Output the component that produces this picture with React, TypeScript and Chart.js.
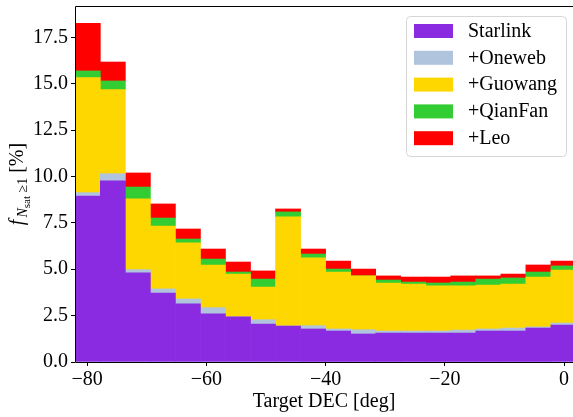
import React, { useEffect, useRef } from 'react';
import { Chart, registerables } from 'chart.js';

Chart.register(...registerables);

// Bin centres (deg) of the Target DEC histogram (bin width 4.2 deg)
const binCenters = [-79.9, -75.7, -71.5, -67.3, -63.1, -58.9, -54.7, -50.5, -46.3, -42.1, -37.9, -33.7, -29.5, -25.3, -21.1, -16.9, -12.7, -8.5, -4.3, -0.1];

// Stacked contributions (percent)
const starlink = [8.95, 9.76, 4.80, 3.72, 3.13, 2.60, 2.43, 2.05, 1.94, 1.78, 1.67, 1.51, 1.56, 1.56, 1.56, 1.56, 1.67, 1.67, 1.83, 1.99];
const oneweb = [0.18, 0.39, 0.18, 0.22, 0.27, 0.33, 0.0, 0.23, 0.0, 0.18, 0.11, 0.23, 0.11, 0.11, 0.11, 0.16, 0.11, 0.16, 0.06, 0.11];
const guowang = [6.20, 4.53, 3.81, 3.39, 3.02, 2.30, 2.31, 1.76, 5.88, 3.65, 3.07, 2.90, 2.59, 2.53, 2.44, 2.38, 2.37, 2.37, 2.69, 2.86];
const qianfan = [0.36, 0.47, 0.64, 0.43, 0.21, 0.32, 0.11, 0.43, 0.27, 0.21, 0.16, 0.0, 0.16, 0.11, 0.15, 0.21, 0.32, 0.33, 0.27, 0.22];
const leo = [2.57, 1.02, 0.76, 0.76, 0.54, 0.54, 0.54, 0.44, 0.16, 0.27, 0.43, 0.37, 0.22, 0.27, 0.32, 0.33, 0.17, 0.21, 0.38, 0.26];

const seriesLabels = ['Starlink', '+Oneweb', '+Guowang', '+QianFan', '+Leo'];
const seriesColors = ['#8A2BE2', '#B0C4DE', '#FFD700', '#32CD32', '#FF0000'];

const xTicks = [-80, -60, -40, -20, 0];
const yTicks = [0, 2.5, 5, 7.5, 10, 12.5, 15, 17.5];

const FONT = "'Liberation Serif', 'Times New Roman', serif";

const framePlugin = {
  id: 'frame',
  afterDatasetsDraw(chart: any) {
    const { ctx, chartArea } = chart;
    const { left, right, top, bottom } = chartArea;
    ctx.save();
    ctx.strokeStyle = '#000';
    ctx.lineWidth = 1;
    ctx.beginPath();
    ctx.moveTo(Math.round(left) + 0.5, Math.round(bottom) + 0.5);
    ctx.lineTo(Math.round(left) + 0.5, Math.round(top) + 0.5);
    ctx.lineTo(right + 2, Math.round(top) + 0.5);
    ctx.moveTo(Math.round(left) + 0.5, Math.round(bottom) + 0.5);
    ctx.lineTo(right + 2, Math.round(bottom) + 0.5);
    ctx.stroke();
    ctx.restore();
  },
};

const legendPlugin = {
  id: 'boxLegend',
  afterDraw(chart: any) {
    const { ctx } = chart;
    const bx = 406.5, by = 16.5, bw = 160, bh = 140, r = 4;
    ctx.save();
    ctx.beginPath();
    ctx.moveTo(bx + r, by);
    ctx.lineTo(bx + bw - r, by);
    ctx.quadraticCurveTo(bx + bw, by, bx + bw, by + r);
    ctx.lineTo(bx + bw, by + bh - r);
    ctx.quadraticCurveTo(bx + bw, by + bh, bx + bw - r, by + bh);
    ctx.lineTo(bx + r, by + bh);
    ctx.quadraticCurveTo(bx, by + bh, bx, by + bh - r);
    ctx.lineTo(bx, by + r);
    ctx.quadraticCurveTo(bx, by, bx + r, by);
    ctx.closePath();
    ctx.fillStyle = 'rgba(255,255,255,0.8)';
    ctx.fill();
    ctx.strokeStyle = '#d6d6d6';
    ctx.lineWidth = 1;
    ctx.stroke();
    chart.data.datasets.forEach((ds: any, i: number) => {
      const cy = 31 + i * 26.8;
      ctx.fillStyle = ds.backgroundColor;
      ctx.fillRect(414, cy - 7, 39, 14);
      ctx.fillStyle = '#000';
      ctx.font = `20px ${FONT}`;
      ctx.textAlign = 'left';
      ctx.textBaseline = 'middle';
      ctx.fillText(ds.label, 468, cy + 0.5);
    });
    ctx.restore();
  },
};

const yTitlePlugin = {
  id: 'yTitle',
  afterDraw(chart: any) {
    const { ctx, chartArea } = chart;
    const parts = [
      { t: 'f', font: `italic 20px ${FONT}`, dy: 0 },
      { t: 'N', font: `italic 14px ${FONT}`, dy: 4 },
      { t: 'sat', font: `11px ${FONT}`, dy: 7 },
      { t: ' \u2265', font: `14px ${FONT}`, dy: 4 },
      { t: '1', font: `14px ${FONT}`, dy: 4 },
      { t: ' [%]', font: `20px ${FONT}`, dy: 0 },
    ];
    ctx.save();
    let total = 0;
    const widths = parts.map((p) => {
      ctx.font = p.font;
      const w = ctx.measureText(p.t).width + (p.t === 'f' ? 2 : 0);
      total += w;
      return w;
    });
    const cy = (chartArea.top + chartArea.bottom) / 2;
    ctx.translate(23, cy);
    ctx.rotate(-Math.PI / 2);
    ctx.fillStyle = '#000';
    ctx.textAlign = 'left';
    ctx.textBaseline = 'alphabetic';
    let x = -total / 2;
    parts.forEach((p, i) => {
      ctx.font = p.font;
      ctx.fillText(p.t, x, p.dy);
      x += widths[i];
    });
    ctx.restore();
  },
};

export default function App() {
  const canvasRef = useRef<HTMLCanvasElement | null>(null);

  useEffect(() => {
    if (!canvasRef.current) return;
    const series = [starlink, oneweb, guowang, qianfan, leo];
    const chart = new Chart(canvasRef.current, {
      type: 'bar',
      data: {
        datasets: series.map((vals, s) => ({
          label: seriesLabels[s],
          data: binCenters.map((x, i) => ({ x, y: vals[i] })),
          backgroundColor: seriesColors[s],
          borderWidth: 0,
          barPercentage: 1,
          categoryPercentage: 1,
        })),
      },
      options: {
        animation: false,
        responsive: false,
        devicePixelRatio: 1,
        layout: { padding: { top: 6, right: 0, left: 0, bottom: 0 } },
        plugins: { legend: { display: false }, tooltip: { enabled: false } },
        scales: {
          x: {
            type: 'linear',
            stacked: true,
            offset: false,
            min: -82.05,
            max: 1.51,
            afterBuildTicks: (s: any) => {
              s.ticks = xTicks.map((v) => ({ value: v }));
            },
            afterFit: (s: any) => {
              s.height = 55;
              s.paddingLeft = 0;
              s.paddingRight = 0;
            },
            grid: { display: true, drawOnChartArea: false, drawTicks: true, tickLength: 4, tickColor: '#000', offset: false },
            border: { display: false },
            ticks: {
              color: '#000',
              padding: 2,
              maxRotation: 0,
              font: { family: FONT, size: 20 },
              callback: (v: any) => (v < 0 ? '\u2212' + Math.abs(v) : String(v)),
            },
            title: {
              display: true,
              text: 'Target DEC [deg]',
              color: '#000',
              font: { family: FONT, size: 20 },
              padding: { top: 0, bottom: 3 },
            },
          },
          y: {
            type: 'linear',
            stacked: true,
            min: 0,
            max: 19.19,
            afterBuildTicks: (s: any) => {
              s.ticks = yTicks.map((v) => ({ value: v }));
            },
            afterFit: (s: any) => {
              s.width = 75;
              s.paddingTop = 0;
              s.paddingBottom = 0;
            },
            grid: { display: true, drawOnChartArea: false, drawTicks: true, tickLength: 4, tickColor: '#000' },
            border: { display: false },
            ticks: {
              color: '#000',
              padding: 3,
              font: { family: FONT, size: 20 },
              callback: (v: any) => Number(v).toFixed(1),
            },
          },
        },
      },
      plugins: [framePlugin, legendPlugin, yTitlePlugin],
    });
    return () => chart.destroy();
  }, []);

  return (
    <div style={{ position: 'absolute', left: 0, top: 0, width: 573, height: 417, background: '#fff' }}>
      <canvas ref={canvasRef} width={573} height={417} />
    </div>
  );
}
